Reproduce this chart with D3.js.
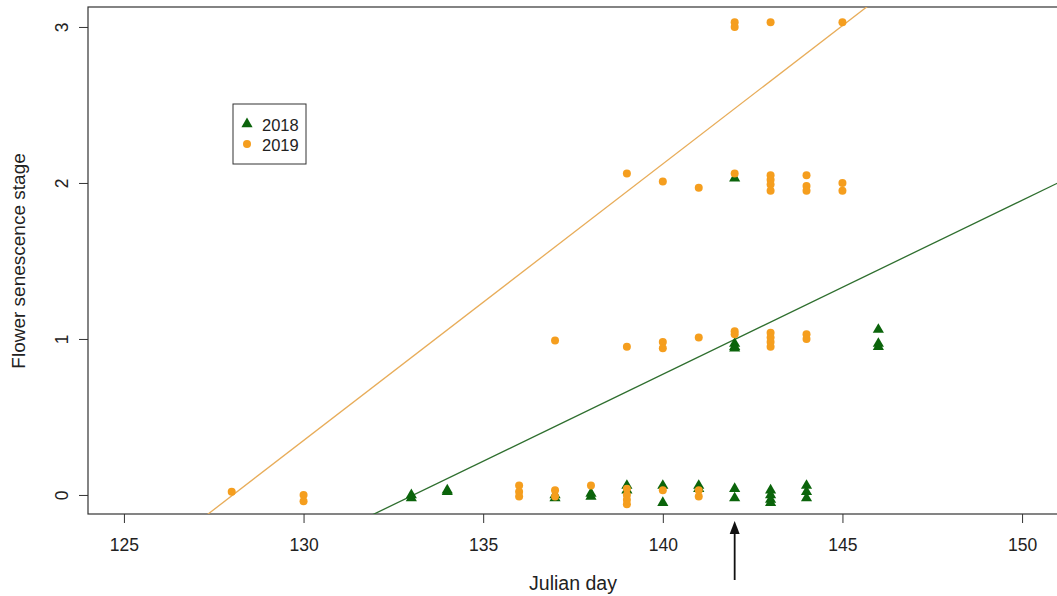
<!DOCTYPE html>
<html>
<head>
<meta charset="utf-8">
<script src="https://cdn.jsdelivr.net/npm/d3@7"></script>
<style>
  body { margin: 0; background: #fff; }
  svg { display: block; font-family: "Liberation Sans", Arial, sans-serif; }
</style>
</head>
<body>
<script>
const width = 1057,
  height = 596,
  margin = { left: 88, top: 7, right: -1, bottom: 82 };

// 2018 points (day, stage with jitter)
const days2018 = [133, 133, 134, 134, 137, 137, 138, 138, 139, 139, 140, 140, 141, 141,
  142, 142, 143, 143, 143, 143, 144, 144, 144, 142, 142, 142, 146, 146, 146, 142];
const stage2018 = [-0.02, 0.0, 0.03, 0.02, 0.0, -0.02, -0.01, 0.01, 0.06, 0.03, 0.06, -0.05, 0.06, 0.04,
  0.04, -0.02, 0.03, 0.0, -0.03, -0.05, 0.06, 0.02, -0.02, 0.97, 0.95, 0.94, 1.06, 0.97, 0.95, 2.03];

// 2019 points
const days2019 = [128, 130, 130, 136, 136, 136, 137, 137, 138, 139, 139, 139, 139, 140, 141, 141,
  137, 139, 140, 140, 141, 142, 142, 143, 143, 143, 143, 144, 144,
  139, 140, 141, 142, 143, 143, 143, 143, 144, 144, 144, 145, 145,
  142, 142, 143, 145];
const stage2019 = [0.02, 0.0, -0.04, 0.06, 0.02, -0.01, 0.03, -0.01, 0.06, 0.04, 0.0, -0.03, -0.06, 0.03, 0.03, -0.01,
  0.99, 0.95, 0.98, 0.94, 1.01, 1.05, 1.03, 1.04, 1.01, 0.98, 0.95, 1.03, 1.0,
  2.06, 2.01, 1.97, 2.06, 2.05, 2.02, 1.99, 1.95, 2.05, 1.98, 1.95, 2.0, 1.95,
  3.03, 3.0, 3.03, 3.03];

// fitted lines: stage = intercept + slope * day
const years = ["2018", "2019"];
const intercepts = [-14.836, -22.70];
const slopes = [0.1115, 0.1773];
const colors = ["#0b640b", "#f59e1e"];
const lineColors = ["#2f6f2f", "#e8ad5a"];

const xTicks = [125, 130, 135, 140, 145, 150];
const yTicks = [0, 1, 2, 3];
const arrowDay = 142;

const x = d3.scaleLinear().domain([124, 151]).range([margin.left, width - margin.right]);
const y = d3.scaleLinear().domain([-0.122, 3.128]).range([height - margin.bottom, margin.top]);

const svg = d3.select("body").append("svg").attr("width", width).attr("height", height);

svg.append("defs").append("clipPath").attr("id", "plotclip")
  .append("rect")
  .attr("x", x(124)).attr("y", y(3.128))
  .attr("width", x(151) - x(124)).attr("height", y(-0.122) - y(3.128));

// axes
const xAxis = d3.axisBottom(x).tickValues(xTicks).tickSize(9).tickPadding(16);
const yAxis = d3.axisLeft(y).tickValues(yTicks).tickSize(9).tickFormat(d3.format("d"));

const gx = svg.append("g").attr("transform", `translate(0,${y(-0.122)})`).call(xAxis);
gx.select(".domain").remove();
gx.selectAll("line").attr("stroke", "#333");
gx.selectAll("text").attr("font-size", 17.5).attr("fill", "#222")
  .attr("font-family", "Liberation Sans, Arial, sans-serif");

const gy = svg.append("g").attr("transform", `translate(${x(124)},0)`).call(yAxis);
gy.select(".domain").remove();
gy.selectAll("line").attr("stroke", "#333");
gy.selectAll("text")
  .attr("font-size", 17.5).attr("fill", "#222")
  .attr("font-family", "Liberation Sans, Arial, sans-serif")
  .attr("text-anchor", "middle")
  .attr("dy", null).attr("x", null)
  .attr("transform", d => `translate(-26,0) rotate(-90)`)
  .attr("dominant-baseline", "central");

// plot box
svg.append("rect")
  .attr("x", x(124)).attr("y", y(3.128))
  .attr("width", x(151) - x(124)).attr("height", y(-0.122) - y(3.128))
  .attr("fill", "none").attr("stroke", "#333").attr("stroke-width", 1.2);

const plot = svg.append("g").attr("clip-path", "url(#plotclip)");

// regression lines
years.forEach((yr, i) => {
  plot.append("line")
    .attr("x1", x(124)).attr("y1", y(intercepts[i] + slopes[i] * 124))
    .attr("x2", x(151)).attr("y2", y(intercepts[i] + slopes[i] * 151))
    .attr("stroke", lineColors[i]).attr("stroke-width", 1.3);
});

// 2018 triangles
const tri = d3.symbol().type(d3.symbolTriangle).size(54);
plot.selectAll(".p2018")
  .data(d3.zip(days2018, stage2018))
  .join("path")
  .attr("class", "p2018")
  .attr("d", tri)
  .attr("transform", d => `translate(${x(d[0])},${y(d[1])})`)
  .attr("fill", colors[0]);

// 2019 circles
plot.selectAll(".p2019")
  .data(d3.zip(days2019, stage2019))
  .join("circle")
  .attr("class", "p2019")
  .attr("cx", d => x(d[0]))
  .attr("cy", d => y(d[1]))
  .attr("r", 4)
  .attr("fill", colors[1]);

// legend
const lg = svg.append("g").attr("transform", "translate(233,104)");
lg.append("rect").attr("width", 73).attr("height", 60)
  .attr("fill", "#fff").attr("stroke", "#333").attr("stroke-width", 1);
lg.append("path").attr("d", tri).attr("transform", "translate(14,20)").attr("fill", colors[0]);
lg.append("circle").attr("cx", 14).attr("cy", 40).attr("r", 4).attr("fill", colors[1]);
years.forEach((yr, i) => {
  lg.append("text").attr("x", 29).attr("y", 21 + i * 20)
    .attr("dominant-baseline", "central")
    .attr("font-size", 16.5).attr("fill", "#222").text(yr);
});

// axis titles
svg.append("text")
  .attr("x", (x(124) + x(151)) / 2).attr("y", 590)
  .attr("text-anchor", "middle").attr("font-size", 19.5).attr("fill", "#222")
  .text("Julian day");
svg.append("text")
  .attr("transform", `translate(25,${y(1.5)}) rotate(-90)`)
  .attr("text-anchor", "middle").attr("font-size", 19).attr("fill", "#222")
  .text("Flower senescence stage");

// arrow marking day 142
svg.append("line")
  .attr("x1", x(arrowDay)).attr("x2", x(arrowDay))
  .attr("y1", 580).attr("y2", 530)
  .attr("stroke", "#111").attr("stroke-width", 1.8);
svg.append("path")
  .attr("d", `M${x(arrowDay)},521 l-5,13 l10,0 z`)
  .attr("fill", "#111");
</script>
</body>
</html>
